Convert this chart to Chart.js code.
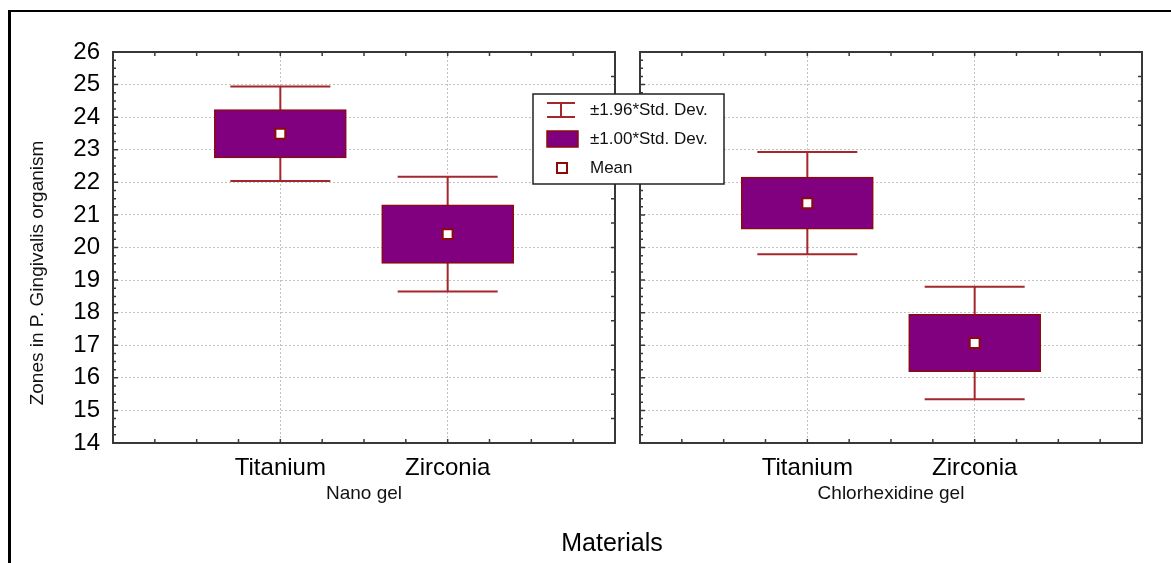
<!DOCTYPE html>
<html>
<head>
<meta charset="utf-8">
<title>Zones in P. Gingivalis organism</title>
<script src="https://cdn.jsdelivr.net/npm/chart.js@4.4.1/dist/chart.umd.min.js"></script>
<style>
  html, body { margin: 0; padding: 0; background: #fff; }
  #wrap { position: relative; width: 1171px; height: 563px; overflow: hidden; }
  #wrap canvas { position: absolute; left: 0; top: 0; }
  #frame { position: absolute; left: 8px; top: 10px; width: 1300px; height: 700px;
           border-left: 3px solid #000; border-top: 2px solid #000; }
  #xtitle { position: absolute; left: 0; top: 527px; width: 1224px; text-align: center;
            font: 25px/30px "Liberation Sans", Arial, sans-serif; color: #000; }
</style>
</head>
<body>
<div id="wrap">
  <div id="frame"></div>
  <canvas id="nanoChart" width="1171" height="563"></canvas>
  <canvas id="chlorChart" width="1171" height="563"></canvas>
  <div id="xtitle">Materials</div>
</div>
<script>
// values (mean and std. dev. per material)
const materials = ['Titanium', 'Zirconia'];
const groupNames = ['Nano gel', 'Chlorhexidine gel'];
const nanoMean = [23.49, 20.41];
const nanoSD = [0.74, 0.90];
const chlorMean = [21.36, 17.07];
const chlorSD = [0.80, 0.88];
const yMin = 14, yMax = 26, yStep = 1;
const legendLabels = ['±1.96*Std. Dev.', '±1.00*Std. Dev.', 'Mean'];
const yTitle = 'Zones in P. Gingivalis organism';

const FONT = '"Liberation Sans", Arial, sans-serif';
const PURPLE = '#800080';
const DARKRED = '#8b0a0a';
const WHISK = '#a3272b';
const GRID = '#c2c2c2';
const FRAME = '#383838';
const TEXT = '#000';

const pad = arr => [null, ...arr, null];

// whiskers: drawn from the transparent floating bar elements
const whiskerPlugin = {
  id: 'whiskers',
  afterDatasetDraw(chart, args) {
    const ds = chart.data.datasets[args.index];
    if (!ds.whisker) return;
    const ctx = chart.ctx;
    ctx.save();
    ctx.strokeStyle = WHISK;
    ctx.lineWidth = 2;
    args.meta.data.forEach((el, i) => {
      if (ds.data[i] == null) return;
      const p = el.getProps(['x', 'y', 'base', 'width'], true);
      const hw = p.width / 2;
      ctx.beginPath();
      ctx.moveTo(p.x - hw, p.y); ctx.lineTo(p.x + hw, p.y);
      ctx.moveTo(p.x - hw, p.base); ctx.lineTo(p.x + hw, p.base);
      ctx.moveTo(p.x, p.y); ctx.lineTo(p.x, p.base);
      ctx.stroke();
    });
    ctx.restore();
  }
};

// panel frame with small inward ticks
const framePlugin = {
  id: 'frame',
  afterDraw(chart) {
    const {ctx, chartArea: a, scales} = chart;
    ctx.save();
    ctx.strokeStyle = FRAME;
    ctx.lineWidth = 2;
    ctx.strokeRect(a.left, a.top, a.right - a.left, a.bottom - a.top);
    ctx.lineWidth = 1.5;
    ctx.beginPath();
    const w = a.right - a.left, h = a.bottom - a.top;
    for (let k = 1; k < 12; k++) {
      const x = a.left + k * w / 12;
      ctx.moveTo(x, a.top); ctx.lineTo(x, a.top + 4);
      ctx.moveTo(x, a.bottom); ctx.lineTo(x, a.bottom - 4);
    }
    for (let v = yMin; v <= yMax; v += 0.25) {
      const y = scales.y.getPixelForValue(v);
      const len = Number.isInteger(v) ? 5 : 3;
      ctx.moveTo(a.left, y); ctx.lineTo(a.left + len, y);
    }
    for (let k = 1; k < 16; k++) {
      const y = a.top + k * h / 16;
      ctx.moveTo(a.right, y); ctx.lineTo(a.right - 4, y);
    }
    ctx.stroke();
    ctx.restore();
  }
};

const yTitlePlugin = {
  id: 'yTitle',
  afterDraw(chart) {
    const ctx = chart.ctx;
    ctx.save();
    ctx.translate(38, 273);
    ctx.rotate(-Math.PI / 2);
    ctx.font = '19px ' + FONT;
    ctx.fillStyle = '#111';
    ctx.textAlign = 'center';
    ctx.textBaseline = 'middle';
    ctx.fillText(yTitle, 0, 0);
    ctx.restore();
  }
};

const legendPlugin = {
  id: 'sdLegend',
  afterDraw(chart) {
    const ctx = chart.ctx;
    const bx = 533, by = 94, bw = 191, bh = 90;
    ctx.save();
    ctx.fillStyle = '#fff';
    ctx.fillRect(bx, by, bw, bh);
    ctx.strokeStyle = '#222';
    ctx.lineWidth = 1.5;
    ctx.strokeRect(bx, by, bw, bh);
    const rows = [110, 139, 168];
    // ±1.96 sd
    ctx.strokeStyle = WHISK;
    ctx.lineWidth = 2;
    ctx.beginPath();
    ctx.moveTo(547, rows[0] - 7); ctx.lineTo(575, rows[0] - 7);
    ctx.moveTo(547, rows[0] + 7); ctx.lineTo(575, rows[0] + 7);
    ctx.moveTo(561, rows[0] - 7); ctx.lineTo(561, rows[0] + 7);
    ctx.stroke();
    // ±1.00 sd
    ctx.fillStyle = PURPLE;
    ctx.fillRect(547, rows[1] - 8, 31, 16);
    ctx.strokeStyle = DARKRED;
    ctx.lineWidth = 1.5;
    ctx.strokeRect(547, rows[1] - 8, 31, 16);
    // mean
    ctx.fillStyle = '#fff';
    ctx.fillRect(557, rows[2] - 5, 10, 10);
    ctx.lineWidth = 2;
    ctx.strokeRect(557, rows[2] - 5, 10, 10);
    ctx.fillStyle = '#111';
    ctx.font = '17px ' + FONT;
    ctx.textBaseline = 'middle';
    legendLabels.forEach((t, i) => ctx.fillText(t, 590, rows[i]));
    ctx.restore();
  }
};

function makePanel(id, mean, sd, group, showY, padLeft, padRight, extra) {
  const whiskers = pad(mean.map((m, i) => [m - 1.96 * sd[i], m + 1.96 * sd[i]]));
  const boxes = pad(mean.map((m, i) => [m - sd[i], m + sd[i]]));
  return new Chart(document.getElementById(id), {
    type: 'bar',
    data: {
      labels: pad(materials).map(v => v || ''),
      datasets: [
        { label: legendLabels[0], whisker: true, data: whiskers, backgroundColor: 'rgba(0,0,0,0)',
          borderWidth: 0, barThickness: 100, grouped: false, order: 3 },
        { label: legendLabels[1], data: boxes, backgroundColor: PURPLE, borderColor: DARKRED,
          borderWidth: 1.5, borderSkipped: false, barThickness: 132, grouped: false, order: 2 },
        { type: 'line', label: legendLabels[2], data: pad(mean), showLine: false,
          pointStyle: 'rect', pointRadius: 7, pointBackgroundColor: '#fff',
          pointBorderColor: DARKRED, pointBorderWidth: 2, order: 1 }
      ]
    },
    options: {
      responsive: false,
      animation: false,
      layout: { padding: { left: padLeft, right: padRight, top: 52, bottom: 58 } },
      plugins: { legend: { display: false }, tooltip: { enabled: false } },
      scales: {
        x: {
          type: 'category',
          offset: false,
          grid: { offset: false, drawTicks: false, lineWidth: 1,
                  color: c => (c.index === 1 || c.index === 2) ? GRID : 'rgba(0,0,0,0)' },
          border: { display: false, dash: [2, 2] },
          ticks: { autoSkip: false, maxRotation: 0, padding: 11, color: TEXT,
                   font: { family: FONT, size: 24 } },
          title: { display: true, text: group, color: '#111', font: { family: FONT, size: 19 },
                   padding: { top: 0, bottom: 0 } },
          afterFit: s => { s.height = 62; }
        },
        y: {
          min: yMin,
          max: yMax,
          ticks: { stepSize: yStep, display: showY, padding: 13, color: TEXT,
                   font: { family: FONT, size: 24 } },
          grid: { drawTicks: false, lineWidth: 1,
                  color: c => (c.tick && (c.tick.value === yMin || c.tick.value === yMax)) ? 'rgba(0,0,0,0)' : GRID },
          border: { display: false, dash: [2, 2] },
          afterFit: s => { s.width = showY ? 113 - padLeft : 0; }
        }
      }
    },
    plugins: [whiskerPlugin, framePlugin].concat(extra)
  });
}

makePanel('nanoChart', nanoMean, nanoSD, groupNames[0], true, 0, 1171 - 615, [yTitlePlugin]);
makePanel('chlorChart', chlorMean, chlorSD, groupNames[1], false, 640, 1171 - 1142, [legendPlugin]);
</script>
</body>
</html>
